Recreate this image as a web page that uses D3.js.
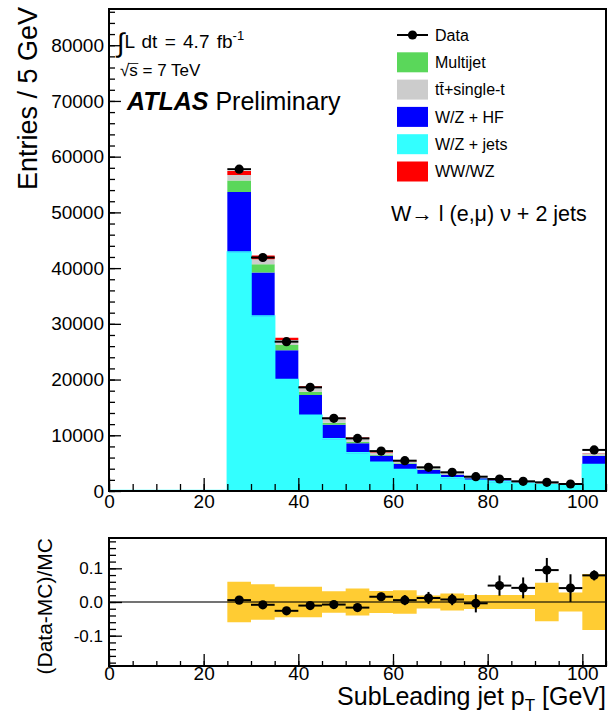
<!DOCTYPE html>
<html>
<head>
<meta charset="utf-8">
<script src="https://cdn.jsdelivr.net/npm/d3@7"></script>
<style>
  body { margin: 0; background: #fff; }
  svg { display: block; }
  text { font-family: "Liberation Sans", Arial, Helvetica, sans-serif; fill: #000; }
</style>
</head>
<body>
<svg id="chart" width="608" height="714"></svg>
<script>
// ---- Histogram content: sub-leading jet pT, 5 GeV bins (last bin holds overflow) ----
const binLow   = [0, 5, 10, 15, 20, 25, 30, 35, 40, 45, 50, 55, 60, 65, 70, 75, 80, 85, 90, 95, 100];
const binWidth = 5;

const wzJets   = [0, 0, 0, 0, 0, 42800, 31300, 19930, 13500, 9300, 6770, 5080, 3770, 2870, 2280, 1850, 1560, 1270, 1080, 920, 4670];
const wzHF     = [0, 0, 0, 0, 0, 10880, 7900, 5330, 3750, 2600, 1800, 1250, 1080, 900, 620, 450, 370, 270, 230, 200, 1610];
const multijet = [0, 0, 0, 0, 0, 2030, 1510, 950, 550, 350, 250, 180, 120, 90, 70, 50, 30, 25, 20, 15, 100];
const topQuark = [0, 0, 0, 0, 0, 1020, 900, 900, 700, 650, 550, 420, 350, 280, 310, 200, 70, 90, 80, 65, 400];
const diboson  = [0, 0, 0, 0, 0, 700, 640, 410, 300, 250, 230, 120, 90, 60, 50, 30, 20, 15, 15, 10, 50];

const dataCounts = [0, 0, 0, 0, 0, 57750, 41900, 26800, 18600, 13050, 9440, 7160, 5440, 4250, 3355, 2570, 2150, 1740, 1560, 1260, 7370];
// relative statistical error on data and relative MC systematic uncertainty
const dataRelErr = [0, 0, 0, 0, 0, 0.005, 0.005, 0.006, 0.006, 0.006, 0.008, 0.012, 0.015, 0.018, 0.017, 0.027, 0.030, 0.031, 0.036, 0.041, 0.015];
const mcRelUnc   = [0, 0, 0, 0, 0, 0.060, 0.053, 0.045, 0.045, 0.032, 0.040, 0.033, 0.035, 0.019, 0.025, 0.021, 0.021, 0.021, 0.057, 0.028, 0.083];

// ---- Axis ticks ----
const xTicks      = [0, 20, 40, 60, 80, 100];
const yTicksMain  = [0, 10000, 20000, 30000, 40000, 50000, 60000, 70000, 80000];
const yTicksRatio = [-0.1, 0, 0.1];

// ---- Samples, stacked bottom to top ----
const samples = [
  { key: "wzJets",   label: "W/Z + jets",   color: "#33ffff", values: wzJets },
  { key: "wzHF",     label: "W/Z + HF",     color: "#0000ff", values: wzHF },
  { key: "multijet", label: "Multijet",     color: "#5ad75a", values: multijet },
  { key: "top",      label: "tt\u0304+single-t", color: "#cccccc", values: topQuark },
  { key: "diboson",  label: "WW/WZ",        color: "#ff0000", values: diboson }
];
const legendOrder = ["multijet", "top", "wzHF", "wzJets", "diboson"];

// table of rows for the stack
const rows = binLow.map((lo, i) => {
  const r = { lo };
  samples.forEach(s => { r[s.key] = s.values[i]; });
  return r;
});
const mcTotal = rows.map(r => d3.sum(samples, s => r[s.key]));

// ---- Layout ----
const svg = d3.select("#chart");
const L = 109, R = 606;
const mainTop = 9, mainBot = 491;
const ratTop = 538, ratBot = 666;

const x  = d3.scaleLinear().domain([0, 105]).range([L, R]);
const y  = d3.scaleLinear().domain([0, 86500]).range([mainBot, mainTop]);
const yr = d3.scaleLinear().domain([-0.19, 0.19]).range([ratBot, ratTop]);

// ---- Main panel: stacked histogram ----
const stack = d3.stack().keys(samples.map(s => s.key))(rows);
const gMain = svg.append("g");

stack.forEach((layer, li) => {
  const pts = layer.map((d, i) => ({ x: binLow[i], y0: d[0], y1: d[1] }));
  const last = pts[pts.length - 1];
  pts.push({ x: last.x + binWidth, y0: last.y0, y1: last.y1 });
  gMain.append("path")
    .datum(pts)
    .attr("fill", samples[li].color)
    .attr("d", d3.area().curve(d3.curveStepAfter)
      .x(d => x(d.x)).y0(d => y(d.y0)).y1(d => y(d.y1)));
});

// outline of the lowest sample (visible along zero where the histogram is empty)
{
  const pts = stack[0].map((d, i) => ({ x: binLow[i], v: d[1] }));
  pts.push({ x: binLow[binLow.length - 1] + binWidth, v: pts[pts.length - 1].v });
  gMain.append("path")
    .datum(pts)
    .attr("fill", "none")
    .attr("stroke", samples[0].color)
    .attr("stroke-width", 1.5)
    .attr("d", d3.line().curve(d3.curveStepAfter).x(d => x(d.x)).y(d => y(d.v) - 0.5));
}

// data points
const dataIdx = binLow.map((_, i) => i).filter(i => dataCounts[i] > 0);
const gData = svg.append("g").attr("stroke", "#000").attr("stroke-width", 2);
dataIdx.forEach(i => {
  const c = dataCounts[i], e = dataRelErr[i] * mcTotal[i];
  const xc = x(binLow[i] + binWidth / 2);
  gData.append("line").attr("x1", x(binLow[i])).attr("x2", x(binLow[i] + binWidth))
    .attr("y1", y(c)).attr("y2", y(c));
  gData.append("line").attr("x1", xc).attr("x2", xc).attr("y1", y(c - e)).attr("y2", y(c + e));
  gData.append("circle").attr("cx", xc).attr("cy", y(c)).attr("r", 4.6).attr("fill", "#000").attr("stroke", "none");
});

// ---- Axes helpers ----
function styleAxis(g, fontSize) {
  g.select(".domain").remove();
  g.selectAll(".tick line").attr("stroke", "#000").attr("stroke-width", 1.3);
  g.selectAll("text").attr("font-size", fontSize).attr("font-family", "Liberation Sans, Arial, sans-serif").attr("fill", "#000");
}
function minorTicks(lo, hi, step) {
  const out = [];
  for (let v = lo; v <= hi + 1e-9; v += step) out.push(+v.toFixed(6));
  return out;
}

// main y axis
svg.append("g").attr("transform", `translate(${L},0)`)
  .call(d3.axisLeft(y).tickValues(minorTicks(0, 86000, 2000)).tickSize(-6).tickFormat(""))
  .call(g => styleAxis(g, 19));
svg.append("g").attr("transform", `translate(${L},0)`)
  .call(d3.axisLeft(y).tickValues(yTicksMain).tickSize(-12).tickPadding(5).tickFormat(d3.format("d")))
  .call(g => styleAxis(g, 19));

// main x axis
svg.append("g").attr("transform", `translate(0,${mainBot})`)
  .call(d3.axisBottom(x).tickValues(minorTicks(0, 105, 5)).tickSize(-7).tickFormat(""))
  .call(g => styleAxis(g, 19));
svg.append("g").attr("transform", `translate(0,${mainBot})`)
  .call(d3.axisBottom(x).tickValues(xTicks).tickSize(-13).tickPadding(4).tickFormat(d3.format("d")))
  .call(g => styleAxis(g, 19));

// main frame
svg.append("rect").attr("x", L).attr("y", mainTop).attr("width", R - L).attr("height", mainBot - mainTop)
  .attr("fill", "none").attr("stroke", "#000").attr("stroke-width", 2);

// main y title
svg.append("text")
  .attr("transform", `translate(37,${mainTop - 2}) rotate(-90)`)
  .attr("text-anchor", "end").attr("font-size", 27)
  .text("Entries / 5 GeV");

// ---- Labels inside the main panel ----
const gLab = svg.append("g");
{
  const t = gLab.append("text").attr("x", 117).attr("y", 48).attr("font-size", 19)
    .attr("word-spacing", 2);
  t.append("tspan").attr("font-size", 27).attr("dy", 4).text("\u222B");
  t.append("tspan").attr("dy", -4).text("L dt = 4.7 fb");
  t.append("tspan").attr("font-size", 13).attr("dy", -8).text("-1");
}
{
  const t = gLab.append("text").attr("x", 120).attr("y", 76).attr("font-size", 17).text("\u221As = 7 TeV");
  // bar of the square root over "s"
  const n = t.node();
  const s0 = n.getStartPositionOfChar(1).x, s1 = n.getEndPositionOfChar(1).x;
  gLab.append("line").attr("x1", s0 - 1).attr("x2", s1 + 0.5).attr("y1", 63.5).attr("y2", 63.5)
    .attr("stroke", "#000").attr("stroke-width", 0.8);
}
{
  const t = gLab.append("text").attr("x", 127).attr("y", 110).attr("font-size", 25);
  t.append("tspan").attr("font-weight", "bold").attr("font-style", "italic").text("ATLAS");
  t.append("tspan").text(" Preliminary");
}
gLab.append("text").attr("x", 391).attr("y", 221).attr("font-size", 21.5)
  .text("W\u2192 l (e,\u03BC) \u03BD + 2 jets");

// legend
const gLeg = svg.append("g");
const legX = 397, legBoxW = 31, legBoxH = 20, legY0 = 35, legDy = 27.3;
gLeg.append("line").attr("x1", legX).attr("x2", legX + legBoxW).attr("y1", legY0).attr("y2", legY0)
  .attr("stroke", "#000").attr("stroke-width", 2);
gLeg.append("circle").attr("cx", legX + legBoxW / 2).attr("cy", legY0).attr("r", 4.6).attr("fill", "#000");
gLeg.append("text").attr("x", 435).attr("y", legY0).attr("dy", "0.35em").attr("font-size", 16).text("Data");
legendOrder.forEach((k, j) => {
  const s = samples.find(d => d.key === k);
  const cy = legY0 + (j + 1) * legDy;
  gLeg.append("rect").attr("x", legX).attr("y", cy - legBoxH / 2).attr("width", legBoxW).attr("height", legBoxH)
    .attr("fill", s.color);
  gLeg.append("text").attr("x", 435).attr("y", cy).attr("dy", "0.35em").attr("font-size", 16).text(s.label);
});

// ---- Ratio panel ----
const mcIdx = binLow.map((_, i) => i).filter(i => mcTotal[i] > 0);
{
  const pts = mcIdx.map(i => ({ x: binLow[i], u: mcRelUnc[i] }));
  pts.push({ x: binLow[mcIdx[mcIdx.length - 1]] + binWidth, u: pts[pts.length - 1].u });
  svg.append("path").datum(pts).attr("fill", "#ffcc33")
    .attr("d", d3.area().curve(d3.curveStepAfter).x(d => x(d.x)).y0(d => yr(-d.u)).y1(d => yr(d.u)));
}
svg.append("line").attr("x1", L).attr("x2", R).attr("y1", yr(0)).attr("y2", yr(0))
  .attr("stroke", "#000").attr("stroke-opacity", 0.55).attr("stroke-width", 2);

const gRat = svg.append("g").attr("stroke", "#000").attr("stroke-width", 2);
dataIdx.forEach(i => {
  const r = dataCounts[i] / mcTotal[i] - 1;
  const e = dataRelErr[i];
  const xc = x(binLow[i] + binWidth / 2);
  gRat.append("line").attr("x1", x(binLow[i])).attr("x2", x(binLow[i] + binWidth)).attr("y1", yr(r)).attr("y2", yr(r));
  gRat.append("line").attr("x1", xc).attr("x2", xc).attr("y1", yr(r - e)).attr("y2", yr(r + e));
  gRat.append("circle").attr("cx", xc).attr("cy", yr(r)).attr("r", 4.6).attr("fill", "#000").attr("stroke", "none");
});

svg.append("g").attr("transform", `translate(${L},0)`)
  .call(d3.axisLeft(yr).tickValues(minorTicks(-0.18, 0.18, 0.02)).tickSize(-7).tickFormat(""))
  .call(g => styleAxis(g, 17));
svg.append("g").attr("transform", `translate(${L},0)`)
  .call(d3.axisLeft(yr).tickValues(yTicksRatio).tickSize(-13).tickPadding(6).tickFormat(d => d.toFixed(1)))
  .call(g => styleAxis(g, 17));
svg.append("g").attr("transform", `translate(0,${ratBot})`)
  .call(d3.axisBottom(x).tickValues(minorTicks(0, 105, 5)).tickSize(-5).tickFormat(""))
  .call(g => styleAxis(g, 19));
svg.append("g").attr("transform", `translate(0,${ratBot})`)
  .call(d3.axisBottom(x).tickValues(xTicks).tickSize(-12).tickPadding(0).tickFormat(d3.format("d")))
  .call(g => styleAxis(g, 19));

svg.append("rect").attr("x", L).attr("y", ratTop).attr("width", R - L).attr("height", ratBot - ratTop)
  .attr("fill", "none").attr("stroke", "#000").attr("stroke-width", 2);

svg.append("text")
  .attr("transform", `translate(52,${ratTop}) rotate(-90)`)
  .attr("text-anchor", "end").attr("font-size", 21)
  .text("(Data-MC)/MC");

{
  const t = svg.append("text").attr("x", R).attr("y", 705).attr("text-anchor", "end").attr("font-size", 25);
  t.append("tspan").text("SubLeading jet p");
  t.append("tspan").attr("font-size", 17).attr("dy", 6).text("T");
  t.append("tspan").attr("dy", -6).text(" [GeV]");
}
</script>
</body>
</html>
